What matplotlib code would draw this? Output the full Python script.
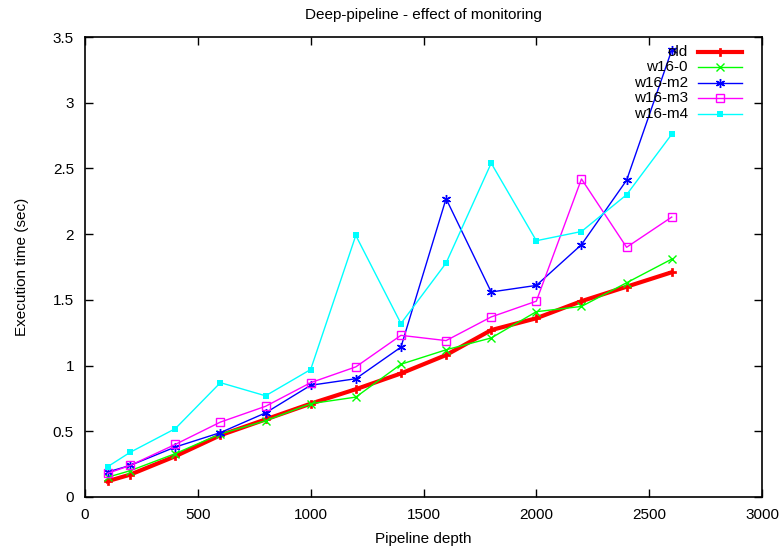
import matplotlib
matplotlib.use("Agg")
import matplotlib.pyplot as plt
from matplotlib.lines import Line2D

plt.rcParams['font.family'] = ['Liberation Sans', 'DejaVu Sans']

depth = [100, 200, 400, 600, 800, 1000, 1200, 1400, 1600, 1800, 2000, 2200, 2400, 2600]
old = [0.12, 0.17, 0.31, 0.47, 0.59, 0.71, 0.82, 0.94, 1.08, 1.27, 1.36, 1.49, 1.60, 1.71]
w16_0 = [0.15, 0.20, 0.33, 0.48, 0.58, 0.71, 0.76, 1.01, 1.12, 1.21, 1.41, 1.45, 1.63, 1.81]
w16_m2 = [0.19, 0.24, 0.38, 0.49, 0.64, 0.85, 0.90, 1.14, 2.27, 1.56, 1.61, 1.92, 2.41, 3.40]
w16_m3 = [0.18, 0.24, 0.40, 0.57, 0.69, 0.87, 0.99, 1.23, 1.19, 1.37, 1.49, 2.42, 1.90, 2.13]
w16_m4 = [0.23, 0.34, 0.52, 0.87, 0.77, 0.97, 1.99, 1.32, 1.78, 2.54, 1.95, 2.02, 2.30, 2.76]

series = [
    ("old", old, dict(color="#ff0000", lw=3.0, marker="P", ms=6, mew=0.5)),
    ("w16-0", w16_0, dict(color="#00ff00", lw=1.0, marker="x", ms=5.5, mew=1.0)),
    ("w16-m2", w16_m2, dict(color="#0000ff", lw=1.0, marker=(6, 2, 0), ms=6.5, mew=1.0)),
    ("w16-m3", w16_m3, dict(color="#ff00ff", lw=1.0, marker="s", ms=5.5, mfc="none", mew=1.0)),
    ("w16-m4", w16_m4, dict(color="#00ffff", lw=1.0, marker="s", ms=4.8, mew=0)),
]

fs = 11

fig = plt.figure(figsize=(7.83, 5.51), dpi=100)
ax = fig.add_axes([85/783, 1-497/551, 677/783, 460/551])

for name, vals, st in series:
    ax.plot(depth, vals, **st)

ax.set_xlim(0, 3000)
ax.set_ylim(0, 3.5)
ax.set_xticks(range(0, 3001, 500))
ax.set_yticks([0, 0.5, 1, 1.5, 2, 2.5, 3, 3.5])
ax.set_yticklabels(["0", "0.5", "1", "1.5", "2", "2.5", "3", "3.5"])
ax.tick_params(direction="in", length=6, width=1, top=True, right=True, labelsize=fs, pad=8)
for s in ax.spines.values():
    s.set_linewidth(1.2)

ax.set_title("Deep-pipeline - effect of monitoring", fontsize=fs, pad=13)
ax.set_xlabel("Pipeline depth", fontsize=fs, labelpad=7)
ax.set_ylabel("Execution time (sec)", fontsize=fs, labelpad=17)

# legend, gnuplot style: right-aligned text, sample to the right
W, H = 783, 551
for i, (name, vals, st) in enumerate(series):
    ypix = 52 + i * 15.4
    yf = 1 - ypix / H
    fig.text(688 / W, yf, name, ha="right", va="center", fontsize=fs)
    fig.add_artist(Line2D([698 / W, 742 / W], [yf, yf], transform=fig.transFigure,
                          color=st["color"], lw=st["lw"]))
    mk = {k: v for k, v in st.items() if k not in ("lw",)}
    fig.add_artist(Line2D([720 / W], [yf], transform=fig.transFigure, lw=0, **mk))

fig.savefig("out.png", dpi=100)
